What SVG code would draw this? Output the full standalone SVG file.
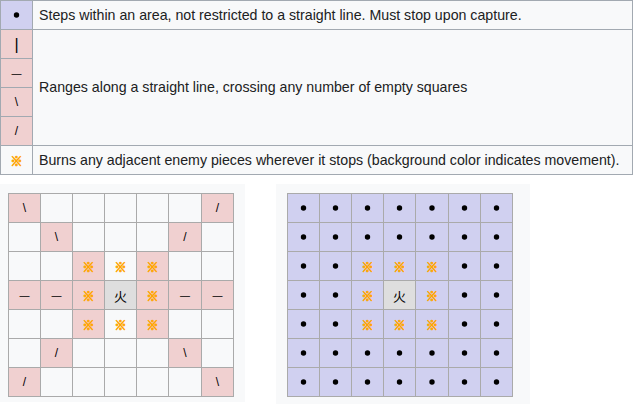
<svg xmlns="http://www.w3.org/2000/svg" xmlns:xlink="http://www.w3.org/1999/xlink" width="634" height="414" viewBox="0 0 634 414">
<style>
.t{font-family:"Liberation Sans",Arial,sans-serif;font-size:14.2px;fill:#202122}
.s{font-family:"Liberation Sans",Arial,sans-serif;font-size:12px;fill:#000;text-anchor:middle;dominant-baseline:central}
.d{font-family:"Liberation Sans",Arial,sans-serif;font-size:10px;fill:#000;text-anchor:middle;dominant-baseline:central}
.p{font-family:"Liberation Sans",Arial,sans-serif;font-size:16px;fill:#000;text-anchor:middle;dominant-baseline:central}
.x{font-family:"Noto Sans CJK JP","DejaVu Sans",sans-serif;font-size:12px;fill:#ffa500;stroke:#ffa500;stroke-width:0.8;text-anchor:middle;dominant-baseline:central}
.k{font-family:"Noto Sans CJK JP","Noto Sans CJK SC",sans-serif;font-size:13px;fill:#000;text-anchor:middle;dominant-baseline:central}
.tb{stroke:#a2a9b1;stroke-width:1}
.c{stroke:#aaaaaa;stroke-width:1}
.w{fill:#f8f9fa}
.pk{fill:#f0d0d0}
.lv{fill:#d0d0f0}
.g{fill:#dedede}
</style>
<defs>
<circle id="dot" r="2.7" fill="#000"/>
</defs>
<rect width="634" height="414" fill="#ffffff"/>
<g id="legend">
<g id="row-step">
<rect class="tb lv" x="0.5" y="0.5" width="32" height="29"/>
<rect class="tb w" x="32.5" y="0.5" width="600" height="29"/>
<use xlink:href="#dot" x="16.5" y="15"/>
<text class="t" x="39" y="19.5">Steps within an area, not restricted to a straight line. Must stop upon capture.</text>
</g>
<g id="row-range">
<rect class="tb pk" x="0.5" y="29.5" width="32" height="29"/>
<rect class="tb pk" x="0.5" y="58.5" width="32" height="29"/>
<rect class="tb pk" x="0.5" y="87.5" width="32" height="29"/>
<rect class="tb pk" x="0.5" y="116.5" width="32" height="29"/>
<rect class="tb w" x="32.5" y="29.5" width="600" height="116"/>
<text class="p" x="16.5" y="44">|</text>
<text class="d" x="16.5" y="73">—</text>
<text class="s" x="16.5" y="102">\</text>
<text class="s" x="16.5" y="131">/</text>
<text class="t" x="39" y="92">Ranges along a straight line, crossing any number of empty squares</text>
</g>
<g id="row-burn">
<rect class="tb w" x="0.5" y="145.5" width="32" height="29"/>
<rect class="tb w" x="32.5" y="145.5" width="600" height="29"/>
<text class="x" x="16.5" y="160">※</text>
<text class="t" x="39" y="165">Burns any adjacent enemy pieces wherever it stops (background color indicates movement).</text>
</g>
</g>

<g id="board-range">
<rect x="0" y="184" width="245" height="218" fill="#f8f9fa"/>
<rect class="c pk" x="8.5" y="193.5" width="32" height="29"/><rect class="c w" x="40.5" y="193.5" width="32" height="29"/><rect class="c w" x="72.5" y="193.5" width="32" height="29"/><rect class="c w" x="104.5" y="193.5" width="32" height="29"/><rect class="c w" x="136.5" y="193.5" width="32" height="29"/><rect class="c w" x="168.5" y="193.5" width="33" height="29"/><rect class="c pk" x="201.5" y="193.5" width="32" height="29"/>
<rect class="c w" x="8.5" y="222.5" width="32" height="29"/><rect class="c pk" x="40.5" y="222.5" width="32" height="29"/><rect class="c w" x="72.5" y="222.5" width="32" height="29"/><rect class="c w" x="104.5" y="222.5" width="32" height="29"/><rect class="c w" x="136.5" y="222.5" width="32" height="29"/><rect class="c pk" x="168.5" y="222.5" width="33" height="29"/><rect class="c w" x="201.5" y="222.5" width="32" height="29"/>
<rect class="c w" x="8.5" y="251.5" width="32" height="29"/><rect class="c w" x="40.5" y="251.5" width="32" height="29"/><rect class="c pk" x="72.5" y="251.5" width="32" height="29"/><rect class="c w" x="104.5" y="251.5" width="32" height="29"/><rect class="c pk" x="136.5" y="251.5" width="32" height="29"/><rect class="c w" x="168.5" y="251.5" width="33" height="29"/><rect class="c w" x="201.5" y="251.5" width="32" height="29"/>
<rect class="c pk" x="8.5" y="280.5" width="32" height="29"/><rect class="c pk" x="40.5" y="280.5" width="32" height="29"/><rect class="c pk" x="72.5" y="280.5" width="32" height="29"/><rect class="c g" x="104.5" y="280.5" width="32" height="29"/><rect class="c pk" x="136.5" y="280.5" width="32" height="29"/><rect class="c pk" x="168.5" y="280.5" width="33" height="29"/><rect class="c pk" x="201.5" y="280.5" width="32" height="29"/>
<rect class="c w" x="8.5" y="309.5" width="32" height="29"/><rect class="c w" x="40.5" y="309.5" width="32" height="29"/><rect class="c pk" x="72.5" y="309.5" width="32" height="29"/><rect class="c w" x="104.5" y="309.5" width="32" height="29"/><rect class="c pk" x="136.5" y="309.5" width="32" height="29"/><rect class="c w" x="168.5" y="309.5" width="33" height="29"/><rect class="c w" x="201.5" y="309.5" width="32" height="29"/>
<rect class="c w" x="8.5" y="338.5" width="32" height="29"/><rect class="c pk" x="40.5" y="338.5" width="32" height="29"/><rect class="c w" x="72.5" y="338.5" width="32" height="29"/><rect class="c w" x="104.5" y="338.5" width="32" height="29"/><rect class="c w" x="136.5" y="338.5" width="32" height="29"/><rect class="c pk" x="168.5" y="338.5" width="33" height="29"/><rect class="c w" x="201.5" y="338.5" width="32" height="29"/>
<rect class="c pk" x="8.5" y="367.5" width="32" height="29"/><rect class="c w" x="40.5" y="367.5" width="32" height="29"/><rect class="c w" x="72.5" y="367.5" width="32" height="29"/><rect class="c w" x="104.5" y="367.5" width="32" height="29"/><rect class="c w" x="136.5" y="367.5" width="32" height="29"/><rect class="c w" x="168.5" y="367.5" width="33" height="29"/><rect class="c pk" x="201.5" y="367.5" width="32" height="29"/>
<text class="s" x="24.5" y="208">\</text><text class="s" x="217.5" y="208">/</text>
<text class="s" x="56.5" y="237">\</text><text class="s" x="185" y="237">/</text>
<text class="x" x="88.5" y="266">※</text><text class="x" x="120.5" y="266">※</text><text class="x" x="152.5" y="266">※</text>
<text class="d" x="24.5" y="295">—</text><text class="d" x="56.5" y="295">—</text><text class="x" x="88.5" y="295">※</text><text class="k" x="120.5" y="295">火</text><text class="x" x="152.5" y="295">※</text><text class="d" x="185" y="295">—</text><text class="d" x="217.5" y="295">—</text>
<text class="x" x="88.5" y="324">※</text><text class="x" x="120.5" y="324">※</text><text class="x" x="152.5" y="324">※</text>
<text class="s" x="56.5" y="353">/</text><text class="s" x="185" y="353">\</text>
<text class="s" x="24.5" y="382">/</text><text class="s" x="217.5" y="382">\</text>
</g>

<g id="board-step">
<rect x="276" y="184" width="254" height="220" fill="#f8f9fa"/>
<g class="c lv">
<rect x="287.5" y="193.5" width="32" height="29"/><rect x="319.5" y="193.5" width="32" height="29"/><rect x="351.5" y="193.5" width="32" height="29"/><rect x="383.5" y="193.5" width="32" height="29"/><rect x="415.5" y="193.5" width="33" height="29"/><rect x="448.5" y="193.5" width="32" height="29"/><rect x="480.5" y="193.5" width="32" height="29"/>
<rect x="287.5" y="222.5" width="32" height="29"/><rect x="319.5" y="222.5" width="32" height="29"/><rect x="351.5" y="222.5" width="32" height="29"/><rect x="383.5" y="222.5" width="32" height="29"/><rect x="415.5" y="222.5" width="33" height="29"/><rect x="448.5" y="222.5" width="32" height="29"/><rect x="480.5" y="222.5" width="32" height="29"/>
<rect x="287.5" y="251.5" width="32" height="29"/><rect x="319.5" y="251.5" width="32" height="29"/><rect x="351.5" y="251.5" width="32" height="29"/><rect x="383.5" y="251.5" width="32" height="29"/><rect x="415.5" y="251.5" width="33" height="29"/><rect x="448.5" y="251.5" width="32" height="29"/><rect x="480.5" y="251.5" width="32" height="29"/>
<rect x="287.5" y="280.5" width="32" height="29"/><rect x="319.5" y="280.5" width="32" height="29"/><rect x="351.5" y="280.5" width="32" height="29"/><rect x="415.5" y="280.5" width="33" height="29"/><rect x="448.5" y="280.5" width="32" height="29"/><rect x="480.5" y="280.5" width="32" height="29"/>
<rect x="287.5" y="309.5" width="32" height="29"/><rect x="319.5" y="309.5" width="32" height="29"/><rect x="351.5" y="309.5" width="32" height="29"/><rect x="383.5" y="309.5" width="32" height="29"/><rect x="415.5" y="309.5" width="33" height="29"/><rect x="448.5" y="309.5" width="32" height="29"/><rect x="480.5" y="309.5" width="32" height="29"/>
<rect x="287.5" y="338.5" width="32" height="29"/><rect x="319.5" y="338.5" width="32" height="29"/><rect x="351.5" y="338.5" width="32" height="29"/><rect x="383.5" y="338.5" width="32" height="29"/><rect x="415.5" y="338.5" width="33" height="29"/><rect x="448.5" y="338.5" width="32" height="29"/><rect x="480.5" y="338.5" width="32" height="29"/>
<rect x="287.5" y="367.5" width="32" height="29"/><rect x="319.5" y="367.5" width="32" height="29"/><rect x="351.5" y="367.5" width="32" height="29"/><rect x="383.5" y="367.5" width="32" height="29"/><rect x="415.5" y="367.5" width="33" height="29"/><rect x="448.5" y="367.5" width="32" height="29"/><rect x="480.5" y="367.5" width="32" height="29"/>
</g>
<rect class="c g" x="383.5" y="280.5" width="32" height="29"/>
<g>
<use xlink:href="#dot" x="303.5" y="208"/><use xlink:href="#dot" x="335.5" y="208"/><use xlink:href="#dot" x="367.5" y="208"/><use xlink:href="#dot" x="399.5" y="208"/><use xlink:href="#dot" x="432" y="208"/><use xlink:href="#dot" x="464.5" y="208"/><use xlink:href="#dot" x="496.5" y="208"/>
<use xlink:href="#dot" x="303.5" y="237"/><use xlink:href="#dot" x="335.5" y="237"/><use xlink:href="#dot" x="367.5" y="237"/><use xlink:href="#dot" x="399.5" y="237"/><use xlink:href="#dot" x="432" y="237"/><use xlink:href="#dot" x="464.5" y="237"/><use xlink:href="#dot" x="496.5" y="237"/>
<use xlink:href="#dot" x="303.5" y="266"/><use xlink:href="#dot" x="335.5" y="266"/><use xlink:href="#dot" x="464.5" y="266"/><use xlink:href="#dot" x="496.5" y="266"/>
<use xlink:href="#dot" x="303.5" y="295"/><use xlink:href="#dot" x="335.5" y="295"/><use xlink:href="#dot" x="464.5" y="295"/><use xlink:href="#dot" x="496.5" y="295"/>
<use xlink:href="#dot" x="303.5" y="324"/><use xlink:href="#dot" x="335.5" y="324"/><use xlink:href="#dot" x="464.5" y="324"/><use xlink:href="#dot" x="496.5" y="324"/>
<use xlink:href="#dot" x="303.5" y="353"/><use xlink:href="#dot" x="335.5" y="353"/><use xlink:href="#dot" x="367.5" y="353"/><use xlink:href="#dot" x="399.5" y="353"/><use xlink:href="#dot" x="432" y="353"/><use xlink:href="#dot" x="464.5" y="353"/><use xlink:href="#dot" x="496.5" y="353"/>
<use xlink:href="#dot" x="303.5" y="382"/><use xlink:href="#dot" x="335.5" y="382"/><use xlink:href="#dot" x="367.5" y="382"/><use xlink:href="#dot" x="399.5" y="382"/><use xlink:href="#dot" x="432" y="382"/><use xlink:href="#dot" x="464.5" y="382"/><use xlink:href="#dot" x="496.5" y="382"/>
</g>
<text class="x" x="367.5" y="266">※</text><text class="x" x="399.5" y="266">※</text><text class="x" x="432" y="266">※</text>
<text class="x" x="367.5" y="295">※</text><text class="k" x="399.5" y="295">火</text><text class="x" x="432" y="295">※</text>
<text class="x" x="367.5" y="324">※</text><text class="x" x="399.5" y="324">※</text><text class="x" x="432" y="324">※</text>
</g>
</svg>
